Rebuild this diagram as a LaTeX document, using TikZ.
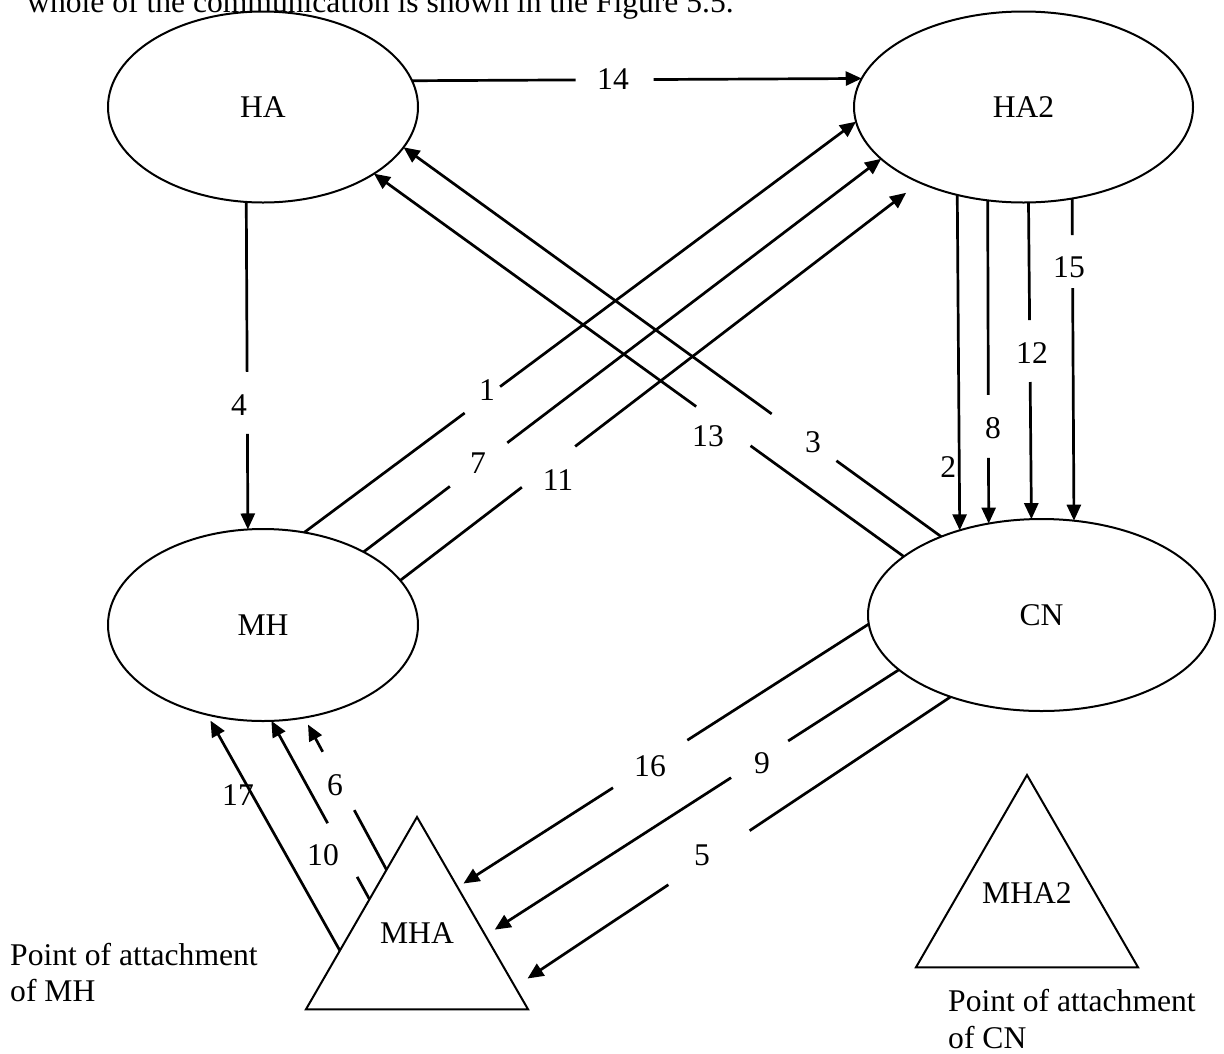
\documentclass[tikz,border=0pt]{standalone}
\usepackage{fontspec}
\setmainfont{Liberation Serif}
\usetikzlibrary{shapes.geometric,arrows.meta,calc}
\begin{document}
\begin{tikzpicture}[x=1pt,y=-1pt,
  every node/.style={font=\fontsize{31.6}{36.3}\selectfont},
  host/.style={draw, ellipse, line width=2pt, inner sep=0pt, outer sep=0pt},
  attach/.style={draw, regular polygon, regular polygon sides=3, minimum size=256.4pt,
                 line width=2pt, inner sep=0pt, outer sep=0pt},
  msg/.style={line width=2.7pt, -{Triangle[length=16pt,width=14pt]}},
  num/.style={inner sep=0pt},
  note/.style={inner sep=0pt, anchor=base west, align=left},
  gapped/.style 2 args={to path={-- ($(\tikztostart)!#1!(\tikztotarget)$)
                                 ($(\tikztostart)!#2!(\tikztotarget)$) -- (\tikztotarget)}}
]
\useasboundingbox (0,0) rectangle (1224,1053);

% running text of the page above the figure
\node[note] (intro) at (27,12) {whole of the communication is shown in the Figure 5.5.};

% agents and hosts
\node[host, minimum width=310pt, minimum height=191pt] (HA)  at (263,107)    {HA};
\node[host, minimum width=339pt, minimum height=191pt] (HA2) at (1023.5,107) {HA2};
\node[host, minimum width=310pt, minimum height=192pt] (MH)  at (263,625)    {MH};
\node[host, minimum width=347pt, minimum height=192pt] (CN)  at (1041.5,615) {CN};

% points of attachment
\node[attach, text depth=24pt] (MHA)  at (417,945.2)  {MHA};
\node[attach, text depth=20pt] (MHA2) at (1027,903.2) {MHA2};

% (base anchor of a two-line note sits on its last line)
\node[note] (poaMH) at (10,1001.3) {Point of attachment\\of MH};
\node[note] (poaCN) at (948,1048)  {Point of attachment\\of CN};

% messages HA -> HA2 and HA -> MH
\draw[msg] (HA.10.70) to[gapped={0.3638}{0.5370}] (HA2.170.20);
\draw[msg] (HA.260.44) to[gapped={0.5191}{0.7084}] (MH.99.51);

% messages MH -> HA2
\draw[msg] (MH.66.67) to[gapped={0.2908}{0.3550}] (HA2.185.47);
\draw[msg, shorten <=13pt] (MH.36.96) to[gapped={0.1668}{0.2577}] (HA2.200.67);
\draw[msg, shorten <=3pt, shorten >=17pt] (MH.18.62) to[gapped={0.2341}{0.3322}] (HA2.216.32);

% messages CN -> HA
\draw[msg] (CN.157.59) to[gapped={0.2893}{0.3919}] (HA.329.42);
\draw[msg, shorten <=14pt] (CN.142.72) to[gapped={0.1949}{0.2942}] (HA.344.05);

% messages HA2 -> CN
\draw[msg] (HA2.233.36) -- (CN.134.78);
\draw[msg] (HA2.249.19) to[gapped={0.6019}{0.7968}] (CN.120.37);
\draw[msg] (HA2.273.90) to[gapped={0.3712}{0.5669}] (CN.96.85);
\draw[msg] (HA2.298.46) to[gapped={0.1139}{0.2783}] (CN.71.55);

% messages CN -> MHA
\draw[msg, shorten >=7pt] (CN.183.28) to[gapped={0.4412}{0.6220}] (MHA.55.5);
\draw[msg, shorten >=11pt] (CN.201.61) to[gapped={0.2679}{0.4060}] (MHA.8.46);
\draw[msg, shorten <=6pt, shorten >=15pt] (CN.222.77) to[gapped={0.4615}{0.6366}] (MHA.337.9);

% messages MHA -> MH
\draw[msg, shorten >=7pt] (MHA.184.86) -- (MH.238.26);
\draw[msg] (MHA.136.1) to[gapped={0.1258}{0.4265}] (MH.275.3);
\draw[msg, shorten >=8pt] (MHA.112.4) to[gapped={0.3918}{0.7751}] (MH.294.2);

% message numbers
\node[num] (n14) at (613,79)  {14};
\node[num] (n4)  at (239,405) {4};
\node[num] (n1)  at (487,390) {1};
\node[num] (n7)  at (478,463) {7};
\node[num] (n11) at (558,480) {11};
\node[num] (n13) at (708,436) {13};
\node[num] (n3)  at (813,442) {3};
\node[num, fill=white, anchor=east, minimum height=61pt, inner xsep=1pt] (n2) at (957.4,467.5) {2};
\node[num] (n8)  at (993,428)  {8};
\node[num] (n12) at (1032,353) {12};
\node[num] (n15) at (1069,267) {15};
\node[num] (n16) at (650,766) {16};
\node[num] (n9)  at (762,763) {9};
\node[num] (n5)  at (702,855) {5};
\node[num] (n17) at (238,795) {17};
\node[num] (n10) at (323,855) {10};
\node[num] (n6)  at (335,785) {6};
\end{tikzpicture}
\end{document}
